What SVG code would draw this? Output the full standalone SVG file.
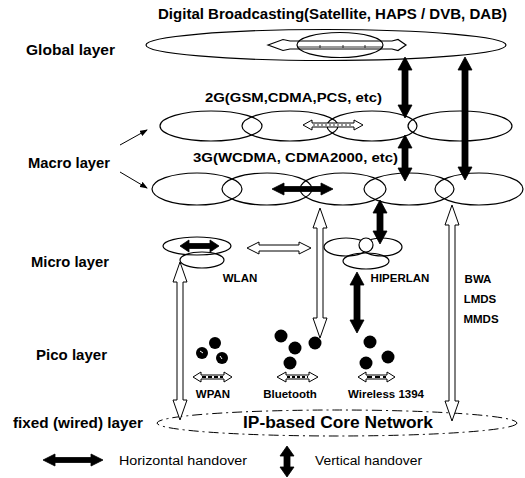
<svg xmlns="http://www.w3.org/2000/svg" width="525" height="478" viewBox="0 0 525 478">
<style>
text{font-family:"Liberation Sans",Arial,sans-serif;font-weight:bold;fill:#000}
.lay{font-size:14px}
.lbl{font-size:11.5px}
.cell{fill:none;stroke:#000;stroke-width:1.2}
.vh{fill:#000;stroke:#000;stroke-width:0.8}
.ho{fill:#fff;stroke:#000;stroke-width:1}
.leg{font-size:12.5px;font-weight:normal}
</style>
<defs>
<marker id="sm" markerWidth="8" markerHeight="6" refX="7" refY="3" orient="auto" markerUnits="userSpaceOnUse"><path d="M0,0 L8,3 L0,6 Z" fill="#000"/></marker>
</defs>
<rect width="525" height="478" fill="#fff"/>

<g id="labels">
<text x="158" y="19" font-size="14" textLength="349" lengthAdjust="spacingAndGlyphs">Digital Broadcasting(Satellite, HAPS / DVB, DAB)</text>
<text class="lay" x="26" y="55" textLength="89" lengthAdjust="spacingAndGlyphs">Global  layer</text>
<text class="lay" x="28" y="168" textLength="82" lengthAdjust="spacingAndGlyphs">Macro layer</text>
<text class="lay" x="31" y="267" textLength="78" lengthAdjust="spacingAndGlyphs">Micro layer</text>
<text class="lay" x="36" y="360" textLength="71" lengthAdjust="spacingAndGlyphs">Pico layer</text>
<text class="lay" x="13" y="428" textLength="130" lengthAdjust="spacingAndGlyphs">fixed (wired) layer</text>
</g>

<g id="global">
<ellipse class="cell" cx="326" cy="45" rx="180" ry="15.5"/>
<ellipse class="cell" cx="340" cy="45" rx="43" ry="12.5"/>
<path class="cell" d="M268,45 L283,39.5 L290,41 L392,41 L398,39.5 L406,45 L398,50.5 L392,49 L290,49 L283,50.5 Z"/>
<path d="M298,47 L383,47 M320,45 v3 M343,45 v3 M365,45 v3" stroke="#000" stroke-width="0.8" fill="none"/>
</g>

<g id="g2">
<text x="205" y="102" font-size="13.5" textLength="177" lengthAdjust="spacingAndGlyphs">2G(GSM,CDMA,PCS, etc)</text>
<ellipse class="cell" cx="211" cy="126" rx="51" ry="15"/>
<ellipse class="cell" cx="290" cy="126" rx="48" ry="15"/>
<ellipse class="cell" cx="372" cy="126" rx="45" ry="15"/>
<ellipse class="cell" cx="460" cy="126" rx="52" ry="15"/>
</g>

<g id="g3">
<text x="193" y="162" font-size="13.5" textLength="205" lengthAdjust="spacingAndGlyphs">3G(WCDMA, CDMA2000, etc)</text>
<ellipse class="cell" cx="197" cy="189" rx="45" ry="16"/>
<ellipse class="cell" cx="267" cy="189" rx="45" ry="16"/>
<ellipse class="cell" cx="343" cy="189" rx="43" ry="16"/>
<ellipse class="cell" cx="409" cy="189" rx="45" ry="16"/>
<ellipse class="cell" cx="479" cy="189" rx="44" ry="16"/>
</g>

<g id="wlan">
<ellipse class="cell" cx="197" cy="246" rx="34" ry="9"/>
<ellipse class="cell" cx="202" cy="260" rx="22" ry="8"/>
<text class="lbl" x="240" y="282" text-anchor="middle">WLAN</text>
</g>

<g id="hiperlan">
<ellipse class="cell" cx="346" cy="247" rx="22" ry="9"/>
<ellipse class="cell" cx="382" cy="247" rx="20" ry="9"/>
<ellipse class="cell" cx="366" cy="261" rx="23" ry="8"/>
<circle cx="366" cy="245" r="7" fill="#fff" stroke="#000" stroke-width="1.2"/>
<text class="lbl" x="400" y="282" text-anchor="middle">HIPERLAN</text>
</g>

<g id="bwa">
<text class="lbl" x="478" y="283" text-anchor="middle">BWA</text>
<text class="lbl" x="480" y="303" text-anchor="middle">LMDS</text>
<text class="lbl" x="481" y="323" text-anchor="middle">MMDS</text>
</g>

<g id="wpan">
<circle cx="215" cy="343" r="6"/>
<circle cx="202" cy="353" r="6"/>
<circle cx="222" cy="358" r="6"/>
<path d="M200,351 l3,2 M220,356 l2,3" stroke="#fff" stroke-width="1"/>
<path class="ho" d="M193,377 L201,372 L201,375 L224,375 L224,372 L232,377 L224,382 L224,379 L201,379 L201,382 Z"/>
<path d="M202,377 H223" stroke="#000" stroke-width="2" stroke-dasharray="4,2"/>
<text class="lbl" x="213" y="398" text-anchor="middle">WPAN</text>
</g>

<g id="bluetooth">
<circle cx="281" cy="336" r="6.5"/>
<circle cx="295" cy="348" r="6.5"/>
<circle cx="315" cy="343" r="6.5"/>
<circle cx="290" cy="363" r="6.5"/>
<path class="ho" d="M277,377 L286,372 L286,375 L309,375 L309,372 L318,377 L309,382 L309,379 L286,379 L286,382 Z"/>
<path d="M287,377 H308" stroke="#000" stroke-width="2" stroke-dasharray="3,2"/>
<text class="lbl" x="290" y="398" text-anchor="middle">Bluetooth</text>
</g>

<g id="wireless1394">
<circle cx="370" cy="342" r="6.5"/>
<circle cx="388" cy="357" r="6.5"/>
<circle cx="366" cy="363" r="6.5"/>
<path class="ho" d="M358,377 L366,372 L366,375 L387,375 L387,372 L395,377 L387,382 L387,379 L366,379 L366,382 Z"/>
<path d="M367,377 H386" stroke="#000" stroke-width="2" stroke-dasharray="5,3"/>
<text class="lbl" x="386" y="398" text-anchor="middle">Wireless 1394</text>
</g>

<g id="core">
<ellipse cx="337" cy="423" rx="180" ry="13" fill="none" stroke="#000" stroke-width="1" stroke-dasharray="10,4,2,4"/>
<text x="338" y="428" font-size="16" text-anchor="middle" textLength="190" lengthAdjust="spacingAndGlyphs">IP-based Core Network</text>
</g>

<g id="connectors">
<line x1="120" y1="145" x2="147" y2="130" stroke="#000" stroke-width="1" marker-end="url(#sm)"/>
<line x1="120" y1="172" x2="147" y2="188" stroke="#000" stroke-width="1" marker-end="url(#sm)"/>
<path class="vh" d="M405,57 L412,70 L408,70 L408,105 L412,105 L405,118 L398,105 L402,105 L402,70 L398,70 Z"/>
<path class="vh" d="M405,135 L412,148 L408,148 L408,168 L412,168 L405,181 L398,168 L402,168 L402,148 L398,148 Z"/>
<path class="vh" d="M465,57 L472,70 L468,70 L468,167 L472,167 L465,180 L458,167 L462,167 L462,70 L458,70 Z"/>
<path class="vh" d="M380,200 L387,213 L383,213 L383,231 L387,231 L380,244 L373,231 L377,231 L377,213 L373,213 Z"/>
<path class="vh" d="M357,272 L364,285 L360,285 L360,320 L364,320 L357,333 L350,320 L354,320 L354,285 L350,285 Z"/>
<path class="ho" d="M303,125 L312,120 L312,123 L354,123 L354,120 L363,125 L354,130 L354,127 L312,127 L312,130 Z"/>
<path d="M313,125 H353" stroke="#777" stroke-width="1.5" stroke-dasharray="2,2"/>
<path class="vh" d="M272,189 L284,183 L284,186.5 L321,186.5 L321,183 L333,189 L321,195 L321,191.5 L284,191.5 L284,195 Z"/>
<path class="vh" d="M180,246 L189,240 L189,243.5 L210,243.5 L210,240 L219,246 L210,252 L210,248.5 L189,248.5 L189,252 Z"/>
<path class="ho" d="M247,248 L259,242 L259,245 L299,245 L299,242 L311,248 L299,254 L299,251 L259,251 L259,254 Z"/>
<path class="ho" d="M180,262 L187,282 L183,282 L183,400 L187,400 L180,420 L173,400 L177,400 L177,282 L173,282 Z"/>
<path class="ho" d="M320,208 L327,228 L323,228 L323,318 L327,318 L320,338 L313,318 L317,318 L317,228 L313,228 Z"/>
<path class="ho" d="M452,205 L459,225 L455,225 L455,401 L459,401 L452,421 L445,401 L449,401 L449,225 L445,225 Z"/>
</g>

<g id="legend">
<path class="vh" d="M43,460 L55,454 L55,457.5 L91,457.5 L91,454 L103,460 L91,466 L91,462.5 L55,462.5 L55,466 Z"/>
<text class="leg" x="119" y="465" textLength="128" lengthAdjust="spacingAndGlyphs">Horizontal handover</text>
<path class="vh" d="M287,446 L294,456 L290,456 L290,467 L294,467 L287,477 L280,467 L284,467 L284,456 L280,456 Z"/>
<text class="leg" x="315" y="465" textLength="107" lengthAdjust="spacingAndGlyphs">Vertical handover</text>
</g>
</svg>
